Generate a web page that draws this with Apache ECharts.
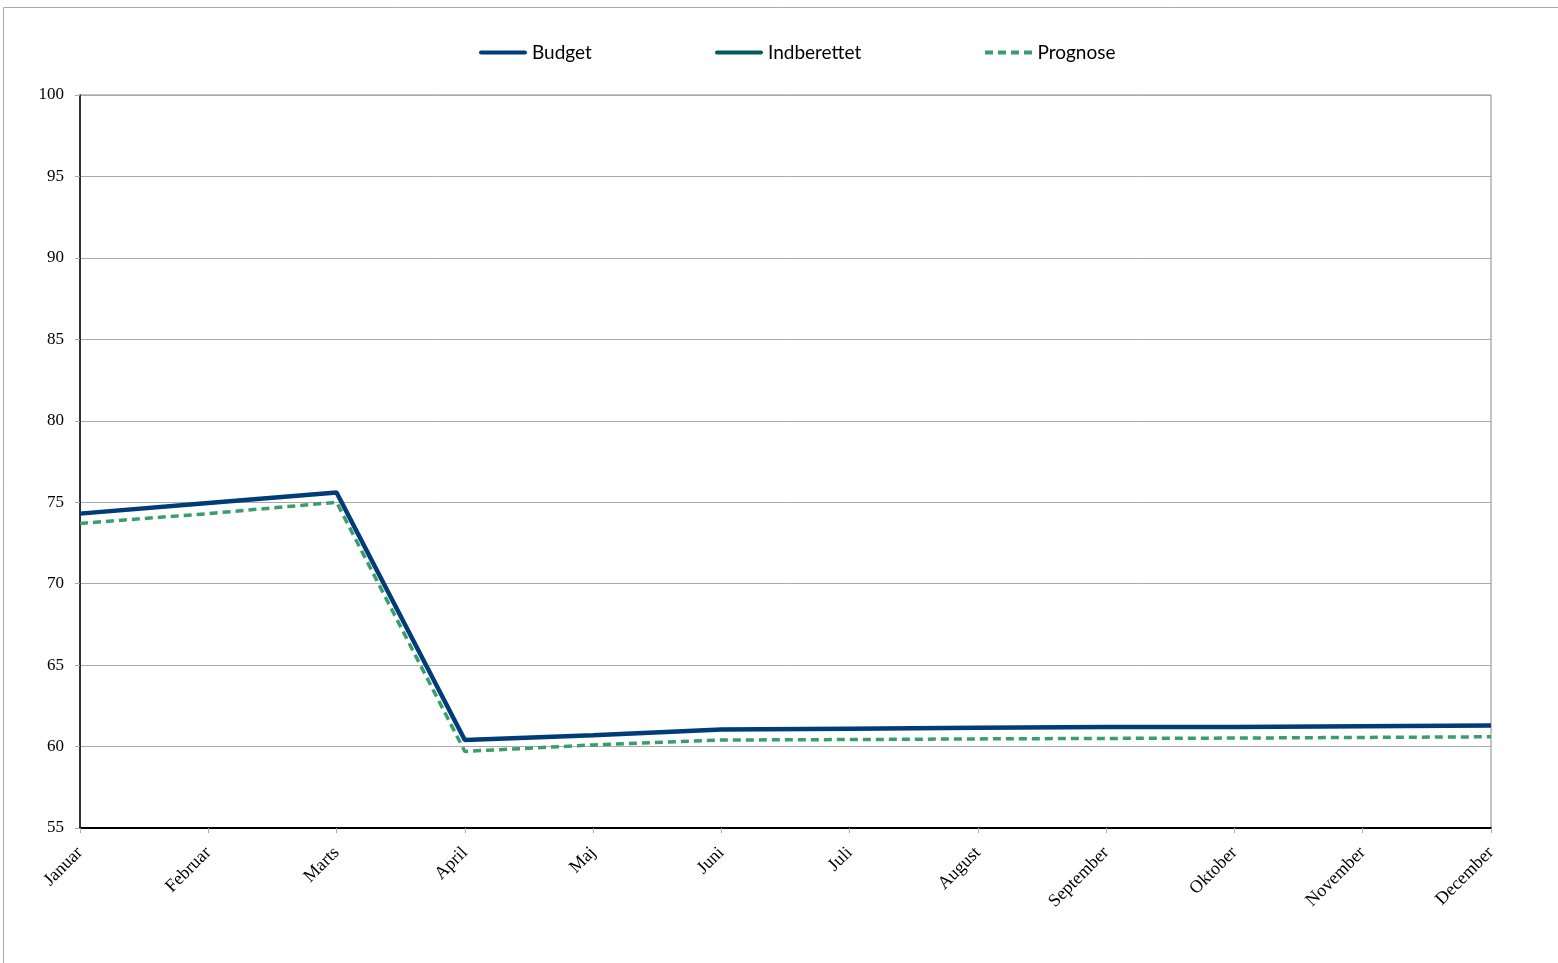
<!DOCTYPE html>
<html><head><meta charset="utf-8">
<script src="https://cdn.jsdelivr.net/npm/echarts@6/dist/echarts.min.js"></script>
<style>html,body{margin:0;padding:0;background:#fff}#c{width:1558px;height:963px}</style>
</head><body><div id="c"></div>
<script>
var categories = ['Januar','Februar','Marts','April','Maj','Juni','Juli','August','September','Oktober','November','December'];
var budget = [74.3, 74.95, 75.6, 60.4, 60.7, 61.05, 61.1, 61.15, 61.2, 61.2, 61.25, 61.3];
var indberettet = [];
var prognose = [73.7, 74.3, 75.0, 59.7, 60.1, 60.4, 60.43, 60.47, 60.5, 60.52, 60.56, 60.6];
var yTicks = [55, 60, 65, 70, 75, 80, 85, 90, 95, 100];

var chart = echarts.init(document.getElementById('c'));
var legendText = {fontFamily: 'Lato', fontSize: 19, color: '#000'};
var solidIcon = 'path://M2,0h44a2,2 0 0 1 0,4h-44a2,2 0 0 1 0,-4z';
var dashIcon = 'path://M0,0h8v4h-8z M13,0h8v4h-8z M26,0h8v4h-8z M39,0h8v4h-8z';
var legendBase = {top: 43, itemWidth: 48, itemHeight: 4, itemGap: 0, textStyle: legendText, padding: 0};
chart.setOption({
  animation: false,
  graphic: [{type: 'rect', shape: {x: 3.5, y: 7.5, width: 1600, height: 1000}, style: {fill: 'none', stroke: '#aaa', lineWidth: 1}, silent: true}],
  legend: [
    Object.assign({}, legendBase, {left: 479, data: [{name: 'Budget', icon: solidIcon}]}),
    Object.assign({}, legendBase, {left: 715, data: [{name: 'Indberettet', icon: solidIcon}]}),
    Object.assign({}, legendBase, {left: 985, data: [{name: 'Prognose', icon: dashIcon}]})
  ],
  grid: {left: 80, right: 67, top: 95, bottom: 135, show: true, borderColor: '#888', borderWidth: 1},
  xAxis: {
    type: 'category', data: categories, boundaryGap: false,
    axisLine: {lineStyle: {color: '#000', width: 2}},
    axisTick: {show: true, length: 5, lineStyle: {color: '#aaa'}},
    axisLabel: {rotate: 45, margin: 22, fontFamily: 'Liberation Serif', fontSize: 18, color: '#000', interval: 0}
  },
  yAxis: {
    type: 'value', min: 55, max: 100, interval: 5,
    axisLine: {show: true, lineStyle: {color: '#000', width: 1.5}},
    axisTick: {show: true, length: 5, lineStyle: {color: '#aaa'}},
    axisLabel: {margin: 16, fontFamily: 'Liberation Serif', fontSize: 17, color: '#000',
      formatter: function (v) { return yTicks.indexOf(v) >= 0 ? String(v) : ''; }},
    splitLine: {lineStyle: {color: '#aaa', width: 1}}
  },
  series: [
    {name: 'Budget', type: 'line', data: budget, symbol: 'none', color: '#003C78',
      lineStyle: {color: '#003C78', width: 4.5}},
    {name: 'Indberettet', type: 'line', data: indberettet, symbol: 'none', color: '#005A5A',
      lineStyle: {color: '#005A5A', width: 4.5}},
    {name: 'Prognose', type: 'line', data: prognose, symbol: 'none', color: '#3A9E6A',
      lineStyle: {color: '#3A9E6A', width: 3.5, type: [8, 5]}}
  ]
});
</script></body></html>
